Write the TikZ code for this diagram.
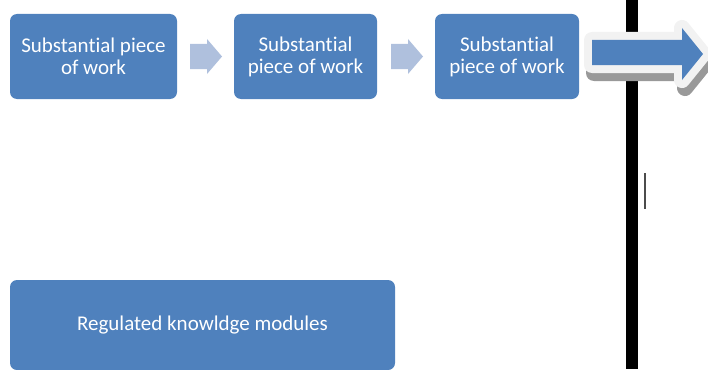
\documentclass[tikz,border=0pt]{standalone}
\usepackage{fontspec}
\setmainfont[Ligatures=NoCommon]{Carlito}
\usetikzlibrary{positioning}
\definecolor{boxblue}{HTML}{4F81BD}
\definecolor{stepblue}{HTML}{AFC0DD}
\definecolor{rimgray}{HTML}{F2F2F2}
\definecolor{shadegray}{HTML}{999999}
\tikzset{
    piece/.style={draw=none, fill=boxblue, rounded corners=7pt, text=white,
        align=center, inner sep=0pt, font=\fontsize{21}{22}\selectfont},
    steparrow/.style={fill=stepblue},
    bigarrow/.style={fill=boxblue},
}

\begin{document}
\begin{tikzpicture}[x=1pt, y=-1pt]
\useasboundingbox (0,0) rectangle (708,369);
% divider
\fill[black] (626,0) rectangle (638,369);
\draw[line width=1.2pt, black!70] (645,173) -- (645,209);
% pieces of work
\node[piece, minimum width=167pt, minimum height=85pt] (work1) at (93.5,56.5) {Substantial piece\\of work};
\node[piece, minimum width=143pt, minimum height=85pt] (work2) at (305.5,56.5) {Substantial\\piece of work};
\node[piece, minimum width=144pt, minimum height=85pt] (work3) at (507,56.5) {Substantial\\piece of work};
\fill[steparrow] (190,44) -- (207,44) -- (207,39) -- (222,56.5) -- (207,74) -- (207,69) -- (190,69) -- cycle;
\fill[steparrow] (391,44) -- (408,44) -- (408,39) -- (423,56.5) -- (408,74) -- (408,69) -- (391,69) -- cycle;
% big arrow
\draw[line width=16pt, shadegray, fill=shadegray, line join=round]
    (594,48) -- (685,48) -- (685,36) -- (706,62) -- (685,88) -- (685,73) -- (594,73) -- cycle;
\draw[line width=16pt, rimgray, fill=rimgray, line join=round]
    (592,40) -- (682,40) -- (682,28) -- (703,54) -- (682,80) -- (682,65) -- (592,65) -- cycle;
\fill[bigarrow] (592,40) -- (682,40) -- (682,28) -- (703,54) -- (682,80) -- (682,65) -- (592,65) -- cycle;
% modules
\node[piece, minimum width=385pt, minimum height=90pt] (modules) at (202.5,325) {Regulated knowldge modules};
\end{tikzpicture}
\end{document}
